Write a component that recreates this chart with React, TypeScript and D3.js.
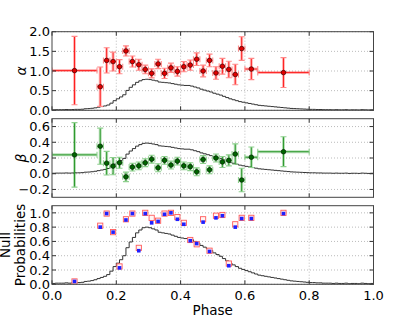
import React from "react";
import * as d3 from "d3";

// phase bins of the fitted points
const phase = [0.07, 0.15, 0.17, 0.19, 0.21, 0.23, 0.25, 0.27, 0.29, 0.31, 0.33, 0.35, 0.37,
  0.39, 0.41, 0.43, 0.45, 0.47, 0.49, 0.51, 0.53, 0.55, 0.57, 0.59, 0.62, 0.72];
const phaseErr = [0.07, 0.01, 0.01, 0.01, 0.01, 0.01, 0.01, 0.01, 0.01, 0.01, 0.01, 0.01, 0.01,
  0.01, 0.01, 0.01, 0.01, 0.01, 0.01, 0.01, 0.01, 0.01, 0.01, 0.01, 0.02, 0.08];

const alpha = [1.01, 0.60, 1.27, 1.24, 1.11, 1.51, 1.24, 1.16, 1.04, 0.94, 1.18, 0.94, 1.08,
  0.99, 1.11, 1.15, 1.30, 1.00, 1.27, 0.95, 1.12, 1.04, 0.91, 1.57, 1.05, 0.96];
const alphaErr = [0.87, 0.5, 0.32, 0.24, 0.18, 0.13, 0.14, 0.14, 0.11, 0.115, 0.12, 0.13, 0.12,
  0.12, 0.13, 0.13, 0.16, 0.15, 0.16, 0.16, 0.2, 0.21, 0.26, 0.3, 0.27, 0.38];

const beta = [0.24, 0.35, 0.134, 0.097, 0.14, -0.04, 0.084, 0.10, 0.14, 0.185, 0.076, 0.17, 0.11,
  0.16, 0.10, 0.09, 0.025, 0.18, 0.05, 0.20, 0.15, 0.17, 0.25, -0.08, 0.21, 0.28];
const betaErr = [0.41, 0.23, 0.15, 0.11, 0.07, 0.06, 0.05, 0.05, 0.05, 0.05, 0.05, 0.05, 0.05,
  0.05, 0.05, 0.05, 0.05, 0.05, 0.05, 0.05, 0.07, 0.07, 0.13, 0.15, 0.13, 0.19];

const nullRed = [0.04, 0.82, 0.99, 0.73, 0.25, 0.91, 0.99, 0.51, 1.0, 0.93, 0.89, 0.99, 1.0,
  0.94, 0.86, 0.62, 0.56, 0.91, 0.47, 0.96, 0.97, 0.29, 0.84, 0.93, 0.93, 1.0];
const nullBlue = [0.04, 0.80, 0.99, 0.73, 0.23, 0.90, 0.99, 0.47, 0.99, 0.86, 0.88, 0.98, 1.0,
  0.91, 0.84, 0.61, 0.57, 0.87, 0.46, 0.93, 0.96, 0.26, 0.80, 0.92, 0.92, 0.99];

// pulse profile, 100 bins of 0.01, normalised to peak 1
const profile = [
  0.015, 0.02, 0.02, 0.02, 0.025, 0.02, 0.025, 0.03, 0.03, 0.035,
  0.05, 0.055, 0.065, 0.08, 0.10, 0.12, 0.14, 0.17, 0.23, 0.31,
  0.37, 0.43, 0.50, 0.64, 0.74, 0.82, 0.90, 0.95, 0.99, 1.0,
  0.99, 0.97, 0.95, 0.91, 0.90, 0.89, 0.88, 0.86, 0.84, 0.82,
  0.81, 0.80, 0.80, 0.78, 0.75, 0.72, 0.68, 0.65, 0.62, 0.59,
  0.55, 0.52, 0.49, 0.45, 0.41, 0.37, 0.34, 0.31, 0.28, 0.26,
  0.24, 0.22, 0.20, 0.18, 0.16, 0.15, 0.14, 0.13, 0.12, 0.11,
  0.10, 0.09, 0.08, 0.07, 0.06, 0.055, 0.05, 0.045, 0.04, 0.035,
  0.03, 0.03, 0.025, 0.025, 0.02, 0.02, 0.02, 0.015, 0.02, 0.015,
  0.015, 0.02, 0.01, 0.015, 0.015, 0.01, 0.02, 0.015, 0.01, 0.015];

const xTicks = [0, 0.2, 0.4, 0.6, 0.8, 1.0];

const W = 415, H = 317;
const left = 52, right = 373.5;
const panelH = 78.6, gap = 8.4, top0 = 31.7;
const font = "DejaVu Sans, sans-serif";

const x = d3.scaleLinear().domain([0, 1]).range([left, right]);
const fmt = (v: number) => d3.format(".1f")(v).replace("-", "\u2212");

type PanelDef = {
  domain: [number, number];
  ticks: number[];
  label: string[];
  italic: boolean;
  profScale: number;
};

const panels: PanelDef[] = [
  { domain: [0, 2], ticks: [0, 0.5, 1, 1.5, 2], label: ["\u03b1"], italic: true, profScale: 0.79 },
  { domain: [-0.3, 0.7], ticks: [-0.2, 0, 0.2, 0.4, 0.6], label: ["\u03b2"], italic: true, profScale: 0.39 },
  { domain: [0, 1.1], ticks: [0, 0.2, 0.4, 0.6, 0.8, 1.0], label: ["Null", "Probabilities"], italic: false, profScale: 0.8 },
];

function Frame({ i, def, children }: { i: number; def: PanelDef; children?: React.ReactNode }) {
  const top = top0 + i * (panelH + gap);
  const y = d3.scaleLinear().domain(def.domain).range([top + panelH, top]);
  const bin = 1 / profile.length;
  const profPts: [number, number][] = profile.map((v, k) => [k * bin, v * def.profScale]);
  profPts.push([1, profile[profile.length - 1] * def.profScale]);
  const line = d3.line<[number, number]>()
    .x(d => x(d[0]))
    .y(d => y(d[1]))
    .curve(d3.curveStepAfter);
  const isLast = i === panels.length - 1;
  const labelX = def.label.length > 1 ? 12 : 21;
  return (
    <g>
      <defs>
        <clipPath id={`clip${i}`}>
          <rect x={left} y={top} width={right - left} height={panelH} />
        </clipPath>
      </defs>
      {/* grid */}
      {xTicks.slice(1, -1).map(t => (
        <line key={"gx" + t} x1={x(t)} x2={x(t)} y1={top} y2={top + panelH}
          stroke="#aaa" strokeWidth={0.8} strokeDasharray="1,2" />
      ))}
      {def.ticks.map(t => (
        <line key={"gy" + t} x1={left} x2={right} y1={y(t)} y2={y(t)}
          stroke="#aaa" strokeWidth={0.8} strokeDasharray="1,2" />
      ))}
      <g clipPath={`url(#clip${i})`}>
        <path d={line(profPts) || ""} fill="none" stroke="#333" strokeWidth={1} />
        {children && React.Children.map(children, c =>
          React.isValidElement(c) ? React.cloneElement(c as React.ReactElement<any>, { y }) : c)}
      </g>
      {/* ticks, inward on all sides */}
      {xTicks.map(t => (
        <g key={"tx" + t}>
          <line x1={x(t)} x2={x(t)} y1={top + panelH} y2={top + panelH - 4} stroke="#333" />
          <line x1={x(t)} x2={x(t)} y1={top} y2={top + 4} stroke="#333" />
        </g>
      ))}
      {def.ticks.map(t => (
        <g key={"ty" + t}>
          <line x1={left} x2={left + 4} y1={y(t)} y2={y(t)} stroke="#333" />
          <line x1={right} x2={right - 4} y1={y(t)} y2={y(t)} stroke="#333" />
          <text x={left - 2} y={y(t)} dy="0.36em" textAnchor="end" fontSize={13}
            fontFamily={font} fill="#000">{fmt(t)}</text>
        </g>
      ))}
      <rect x={left} y={top} width={right - left} height={panelH} fill="none" stroke="#444" strokeWidth={1} />
      <text transform={`translate(${labelX},${top + panelH / 2}) rotate(-90)`} textAnchor="middle"
        fontSize={def.label.length > 1 ? 13.5 : 14} fontFamily={font}
        fontStyle={def.italic ? "italic" : "normal"} fill="#000">
        {def.label.map((s, k) => (
          <tspan key={s} x={0} dy={k === 0 ? (def.label.length > 1 ? "-0.15em" : "0.35em") : "1.12em"}>{s}</tspan>
        ))}
      </text>
      {isLast && xTicks.map(t => (
        <text key={"lx" + t} x={x(t)} y={top + panelH + 16} textAnchor="middle" fontSize={13}
          fontFamily={font} fill="#000">{fmt(t)}</text>
      ))}
    </g>
  );
}

function ErrorPoints({ y, vals, errs, core, halo, cap, fill, edge }: any) {
  if (!y) return null;
  return (
    <g>
      {vals.map((v: number, k: number) => {
        const cx = x(phase[k]), cy = y(v);
        const x0 = x(phase[k] - phaseErr[k]), x1 = x(phase[k] + phaseErr[k]);
        const y0 = y(v - errs[k]), y1 = y(v + errs[k]);
        return (
          <g key={k}>
            <line x1={cx} x2={cx} y1={y0} y2={y1} stroke={halo} strokeWidth={3} />
            <line x1={x0} x2={x1} y1={cy} y2={cy} stroke={halo} strokeWidth={3} />
            <line x1={cx} x2={cx} y1={y0} y2={y1} stroke={core} strokeWidth={1} />
            <line x1={x0} x2={x1} y1={cy} y2={cy} stroke={core} strokeWidth={1} />
            <line x1={cx - 3} x2={cx + 3} y1={y0} y2={y0} stroke={cap} strokeWidth={1.1} />
            <line x1={cx - 3} x2={cx + 3} y1={y1} y2={y1} stroke={cap} strokeWidth={1.1} />
            <line x1={x0} x2={x0} y1={cy - 3} y2={cy + 3} stroke={cap} strokeWidth={1.1} />
            <line x1={x1} x2={x1} y1={cy - 3} y2={cy + 3} stroke={cap} strokeWidth={1.1} />
            <circle cx={cx} cy={cy} r={2.3} fill={fill} stroke={edge} strokeWidth={0.7} />
          </g>
        );
      })}
    </g>
  );
}

function NullPoints({ y }: any) {
  if (!y) return null;
  return (
    <g>
      {nullRed.map((v, k) => (
        <rect key={"r" + k} x={x(phase[k]) - 2.6} y={y(v) - 2.6} width={5.2} height={5.2}
          fill="#fff4f4" stroke="#ff5a5a" strokeWidth={0.9} />
      ))}
      {nullBlue.map((v, k) => (
        <rect key={"b" + k} x={x(phase[k]) - 1.8} y={y(v) - 1.8} width={3.6} height={3.6} fill="#2020ff" />
      ))}
    </g>
  );
}

export default function App() {
  return (
    <div style={{ position: "fixed", left: 0, top: 0 }}>
      <svg width={W} height={H} style={{ display: "block", background: "#fff" }}>
        <Frame i={0} def={panels[0]}>
          <ErrorPoints vals={alpha} errs={alphaErr} core="#ff2020" halo="rgba(255,0,0,0.28)"
            cap="#ff8a8a" fill="#e00000" edge="#3a0000" />
        </Frame>
        <Frame i={1} def={panels[1]}>
          <ErrorPoints vals={beta} errs={betaErr} core="#2e9a2e" halo="rgba(0,140,0,0.28)"
            cap="#8fd08f" fill="#006400" edge="#002000" />
        </Frame>
        <Frame i={2} def={panels[2]}>
          <NullPoints />
        </Frame>
        <text x={(left + right) / 2} y={315} textAnchor="middle" fontSize={13.5}
          fontFamily={font} fill="#000">Phase</text>
      </svg>
    </div>
  );
}
